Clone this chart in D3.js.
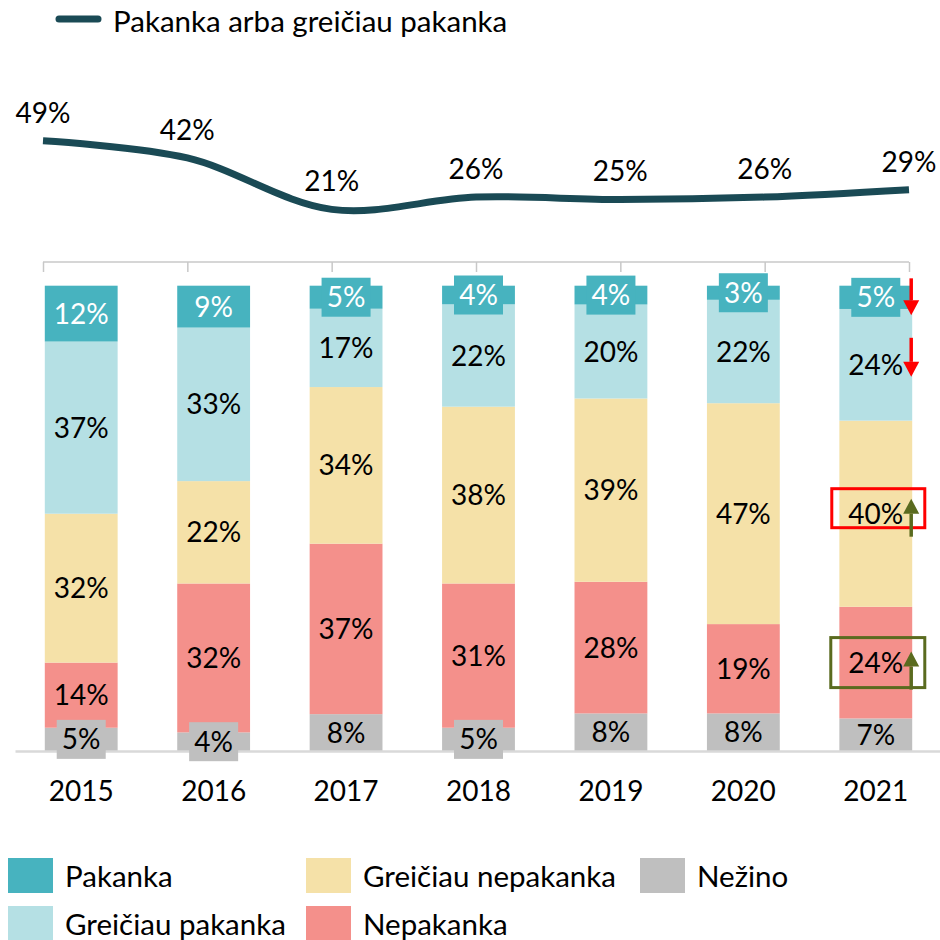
<!DOCTYPE html>
<html>
<head>
<meta charset="utf-8">
<script src="https://cdn.jsdelivr.net/npm/d3@7"></script>
<style>
  body { margin: 0; background: #fff; }
  text { font-family: Lato, "Open Sans", sans-serif; }
</style>
</head>
<body>
<script>
// ----- Data -----
const years = ["2015", "2016", "2017", "2018", "2019", "2020", "2021"];
const pakanka = [12, 9, 5, 4, 4, 3, 5];
const greiciauPakanka = [37, 33, 17, 22, 20, 22, 24];
const greiciauNepakanka = [32, 22, 34, 38, 39, 47, 40];
const nepakanka = [14, 32, 37, 31, 28, 19, 24];
const nezino = [5, 4, 8, 5, 8, 8, 7];
const lineValues = [49, 42, 21, 26, 25, 26, 29];

const seriesNames = ["Pakanka", "Greičiau pakanka", "Greičiau nepakanka", "Nepakanka", "Nežino"];
const seriesValues = [pakanka, greiciauPakanka, greiciauNepakanka, nepakanka, nezino];
const colors = ["#47b3bf", "#b5e0e4", "#f5e1a8", "#f4908b", "#bfbfbf"];
const lineName = "Pakanka arba greičiau pakanka";

const width = 940, height = 940;
const fontSize = 28;
const legendFont = 29.5;

const svg = d3.select("body")
    .append("svg")
    .attr("width", width)
    .attr("height", height);

// table for the stack
const table = years.map((y, i) => {
    const row = {year: y};
    seriesNames.forEach((s, k) => row[s] = seriesValues[k][i]);
    return row;
});

// stack from bottom: Nežino first
const stackKeys = seriesNames.slice().reverse();
const stacked = d3.stack()
    .keys(stackKeys)
    .offset(d3.stackOffsetExpand)(table);

const color = d3.scaleOrdinal().domain(seriesNames).range(colors);

// ----- Scales -----
const x = d3.scaleBand()
    .domain(years)
    .range([15, 942])
    .paddingInner(0.45)
    .paddingOuter(0.225);

const y = d3.scaleLinear()
    .domain([0, 1])
    .range([751, 285.7]);

const xLine = d3.scalePoint()
    .domain(years)
    .range([43, 909]);

const yLine = d3.scaleLinear()
    .domain([0, 100])
    .range([260.8, 15.8]);

// ----- Top axis of the line chart -----
const topAxis = svg.append("g")
    .attr("transform", "translate(0,262)")
    .call(d3.axisBottom(xLine).tickSize(10).tickFormat(""));
topAxis.select(".domain").attr("stroke", "#c8c8c8").attr("stroke-width", 1.5)
    .attr("d", "M" + xLine.range()[0] + ",0H" + xLine.range()[1]);
topAxis.selectAll(".tick line").attr("stroke", "#c8c8c8").attr("stroke-width", 1.5);

// ----- Line -----
const line = d3.line()
    .x((d, i) => xLine(years[i]))
    .y(d => yLine(d))
    .curve(d3.curveCatmullRom.alpha(0.5));

svg.append("path")
    .datum(lineValues)
    .attr("d", line)
    .attr("fill", "none")
    .attr("stroke", "#1a4a55")
    .attr("stroke-width", 7);

svg.append("g")
    .selectAll("text")
    .data(lineValues)
    .join("text")
    .attr("x", (d, i) => xLine(years[i]))
    .attr("y", d => yLine(d) - 28)
    .attr("dy", "0.35em")
    .attr("text-anchor", "middle")
    .style("font-size", fontSize + "px")
    .style("fill", "#000")
    .text(d => d + "%");

// ----- Bars -----
const layers = svg.append("g")
    .selectAll("g")
    .data(stacked)
    .join("g")
    .attr("fill", d => color(d.key));

layers.selectAll("rect")
    .data(d => d)
    .join("rect")
    .attr("x", d => x(d.data.year))
    .attr("y", d => y(d[1]))
    .attr("width", x.bandwidth())
    .attr("height", d => y(d[0]) - y(d[1]));

// bottom axis
const bottomAxis = svg.append("g")
    .attr("transform", "translate(0,751)")
    .call(d3.axisBottom(x).tickSize(0).tickPadding(30));
bottomAxis.select(".domain").attr("stroke", "#d9d9d9").attr("stroke-width", 2.5);
bottomAxis.selectAll("text")
    .style("font-family", "Lato, sans-serif")
    .style("font-size", fontSize + "px")
    .attr("fill", "#000");

// ----- Segment labels -----
stacked.forEach(layer => {
    const key = layer.key;
    layer.forEach(d => {
        const v = d.data[key];
        const cx = x(d.data.year) + x.bandwidth() / 2;
        const cy = (y(d[0]) + y(d[1])) / 2;
        // small values get a filled box behind the label
        if (v <= 5) {
            svg.append("rect")
                .attr("x", cx - 24.5)
                .attr("y", cy - 19.5)
                .attr("width", 49)
                .attr("height", 39)
                .attr("fill", color(key));
        }
        svg.append("text")
            .attr("x", cx)
            .attr("y", cy)
            .attr("dy", "0.36em")
            .attr("text-anchor", "middle")
            .style("font-size", fontSize + "px")
            .style("fill", key === "Pakanka" ? "#fff" : "#000")
            .text(v + "%");
    });
});

// ----- Annotations on 2021 -----
const lastYear = years[years.length - 1];
const bx = x(lastYear) + x.bandwidth() / 2;
const arrowX = x(lastYear) + x.bandwidth() - 1;

function segCenter(key) {
    const d = stacked.find(l => l.key === key)[years.length - 1];
    return (y(d[0]) + y(d[1])) / 2;
}

function arrow(x0, yFrom, yTo, col) {
    const dir = yTo > yFrom ? 1 : -1;
    const head = 15;
    svg.append("line")
        .attr("x1", x0).attr("x2", x0)
        .attr("y1", yFrom).attr("y2", yTo - dir * head)
        .attr("stroke", col)
        .attr("stroke-width", 3.5);
    svg.append("path")
        .attr("d", "M" + (x0 - 8) + "," + (yTo - dir * head) + "L" + (x0 + 8) + "," + (yTo - dir * head) + "L" + x0 + "," + yTo + "Z")
        .attr("fill", col);
}

// down arrows (red)
const cP = segCenter("Pakanka");
arrow(arrowX, cP - 19, cP + 18, "#ff0000");
const cGP = segCenter("Greičiau pakanka");
arrow(arrowX, cGP - 27, cGP + 12, "#ff0000");

// boxes with up arrows
const cGN = segCenter("Greičiau nepakanka");
svg.append("rect")
    .attr("x", bx - 44).attr("y", cGN - 25)
    .attr("width", 93).attr("height", 39)
    .attr("fill", "none")
    .attr("stroke", "#ff0000")
    .attr("stroke-width", 3);
arrow(arrowX, cGN + 23, cGN - 15, "#5a6b1f");

const cN = segCenter("Nepakanka");
svg.append("rect")
    .attr("x", bx - 45).attr("y", cN - 25)
    .attr("width", 94).attr("height", 50)
    .attr("fill", "none")
    .attr("stroke", "#5a6b1f")
    .attr("stroke-width", 3);
arrow(arrowX, cN + 27, cN - 11, "#5a6b1f");

// ----- Top legend (line) -----
const topLegend = svg.append("g").attr("transform", "translate(56,19)");
topLegend.append("line")
    .attr("x1", 3).attr("x2", 42)
    .attr("y1", 0).attr("y2", 0)
    .attr("stroke", "#1a4a55")
    .attr("stroke-width", 7)
    .attr("stroke-linecap", "round");
topLegend.append("text")
    .attr("x", 57)
    .attr("y", 3)
    .attr("dy", "0.35em")
    .style("font-size", legendFont + "px")
    .text(lineName);

// ----- Bottom legend -----
const legendPos = [[8, 858], [8, 906], [306, 858], [306, 906], [640, 858]];
const legendOrder = ["Pakanka", "Greičiau pakanka", "Greičiau nepakanka", "Nepakanka", "Nežino"];
const legend = svg.append("g")
    .selectAll("g")
    .data(legendOrder)
    .join("g")
    .attr("transform", (d, i) => "translate(" + legendPos[i][0] + "," + legendPos[i][1] + ")");

legend.append("rect")
    .attr("width", 45)
    .attr("height", 35)
    .attr("fill", d => color(d));

legend.append("text")
    .attr("x", 57)
    .attr("y", 19)
    .attr("dy", "0.35em")
    .style("font-size", legendFont + "px")
    .text(d => d);
</script>
</body>
</html>
